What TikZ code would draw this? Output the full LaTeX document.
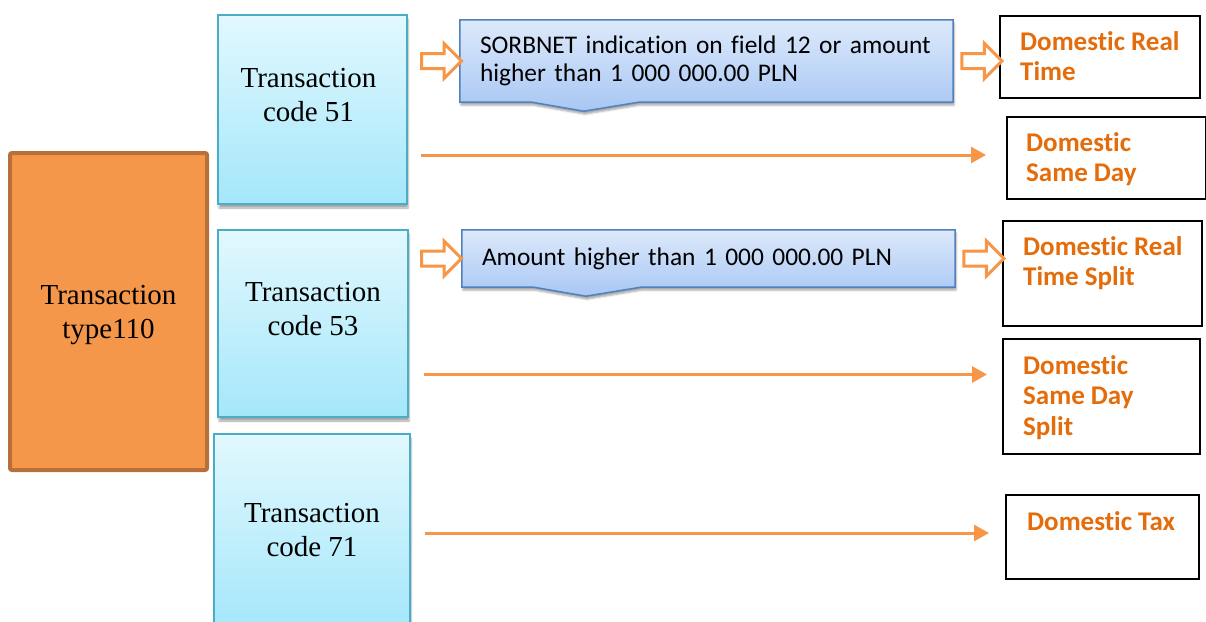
\documentclass[tikz,border=0pt]{standalone}
\usepackage{fontspec}
\setmainfont{Liberation Serif}
\newfontfamily\calfont[Ligatures=NoCommon]{Carlito}
\usetikzlibrary{shapes.arrows, arrows.meta, positioning, calc,
                backgrounds, shadows.blur}
\definecolor{typefill}{HTML}{F5974A}
\definecolor{typedraw}{HTML}{B8703A}
\definecolor{codetop}{HTML}{E2F8FE}
\definecolor{codebot}{HTML}{A4E7FA}
\definecolor{codedraw}{HTML}{4BACC6}
\definecolor{condtop}{HTML}{DDE9FB}
\definecolor{condbot}{HTML}{A8C7F4}
\definecolor{conddraw}{HTML}{4F81BD}
\definecolor{flowor}{HTML}{F79646}
\definecolor{outtxt}{HTML}{E46C0A}
\tikzset{
  typebox/.style ={draw=typedraw, line width=4pt, rounded corners=2pt, fill=typefill,
                   minimum width=197pt, minimum height=317pt},
  codebox/.style ={draw=codedraw, line width=1.5pt, top color=codetop, bottom color=codebot,
                   blur shadow={shadow xshift=1pt, shadow yshift=-4pt, shadow opacity=35},
                   minimum width=189pt, minimum height=189pt},
  codetxt/.style ={align=center, inner sep=0pt, font=\fontsize{29}{34}\selectfont},
  cond/.style    ={minimum width=493pt, text width=453pt, align=left, inner sep=0pt,
                   font=\calfont\fontsize{25.4}{28}\selectfont},
  condshape/.style={draw=conddraw, line width=1.5pt, top color=condtop, bottom color=condbot,
                   blur shadow={shadow xshift=1pt, shadow yshift=-3pt, shadow opacity=35}},
  outbox/.style  ={draw=black, line width=2pt, fill=white},
  outlbl/.style  ={anchor=north west, align=left, inner sep=0pt, text=outtxt,
                   font=\calfont\bfseries\fontsize{27}{30.5}\selectfont},
  blockarrow/.style={single arrow, draw=flowor, line width=3pt, fill=white,
                   minimum height=40pt, inner sep=6pt, single arrow head extend=10pt},
  flow/.style    ={-{Triangle[length=15pt,width=16pt]}, line width=3pt, draw=flowor}
}
\begin{document}
\begin{tikzpicture}[x=1pt, y=-1pt]
  \useasboundingbox (0,0) rectangle (1206,621);

  \node[typebox] (ty) at (108.5,311.5) {};
  \node[codetxt] (tyt) at ($(ty)+(0,4)$) {Transaction\\type110};

  \node[codebox] (c51) at (312.5,109.5) {};
  \node[codebox, minimum width=190pt, minimum height=187pt] (c53) at (313,323.5) {};
  \node[codebox, minimum width=196pt, minimum height=196pt] (c71) at (312,532) {};
  \node[codetxt] (c51t) at ($(c51)+(-4,-14)$) {Transaction\\code 51};
  \node[codetxt] (c53t) at ($(c53)+(0,-14)$)  {Transaction\\code 53};
  \node[codetxt] (c71t) at ($(c71)+(0,-2)$)   {Transaction\\code 71};

  \node[cond, minimum height=82pt] (cond1) at (706.5,61)
    {SORBNET indication on field 12 or amount\\higher than 1 000 000.00 PLN};
  \node[cond, minimum height=57pt] (cond2) at (708.5,258.5)
    {Amount higher than 1 000 000.00 PLN};

  \begin{scope}[on background layer]
    \foreach \c in {cond1,cond2}
      \draw[condshape] (\c.north west) -- (\c.north east) -- (\c.south east)
        -- ($(\c.south west)+(179,0)$) -- ($(\c.south west)+(124,9)$)
        -- ($(\c.south west)+(72,0)$) -- (\c.south west) -- cycle;
  \end{scope}

  \node[outbox, minimum width=200pt, minimum height=82pt]  (rt)  at (1100,57) {};
  \node[outbox, minimum width=199pt, minimum height=82pt]  (sd)  at (1106.5,158) {};
  \node[outbox, minimum width=199pt, minimum height=105pt] (rts) at (1102.5,273.5) {};
  \node[outbox, minimum width=197pt, minimum height=115pt] (sds) at (1101.5,396.5) {};
  \node[outbox, minimum width=193pt, minimum height=84pt]  (tax) at (1102.5,537) {};
  \node[outlbl] (rtt)  at ($(rt.north west)+(21,16)$)  {Domestic Real\\Time};
  \node[outlbl] (sdt)  at ($(sd.north west)+(20,16)$)  {Domestic\\Same Day};
  \node[outlbl] (rtst) at ($(rts.north west)+(21,16)$) {Domestic Real\\Time Split};
  \node[outlbl] (sdst) at ($(sds.north west)+(21,17)$) {Domestic\\Same Day\\Split};
  \node[outlbl] (taxt) at ($(tax.north west)+(22,17)$) {Domestic Tax};

  \node[blockarrow] (ba1) at ($(cond1.west)+(-22,0)$) {};
  \node[blockarrow] (ba2) at ($(cond1.east)+(25,0)$)  {};
  \node[blockarrow] (ba3) at ($(cond2.west)+(-24,0)$) {};
  \node[blockarrow] (ba4) at ($(cond2.east)+(25,0)$)  {};

  \draw[flow] ($(c51.east |- sd.west)+(13,-3)$) -- ($(sd.west)+(-20,-3)$);
  \draw[flow] ($(c53.east)+(15,51)$) -- ($(sds.west |- c53.east)+(-15,51)$);
  \draw[flow] ($(c71.east)+(14,1)$)  -- ($(tax.west |- c71.east)+(-16,1)$);
\end{tikzpicture}
\end{document}
